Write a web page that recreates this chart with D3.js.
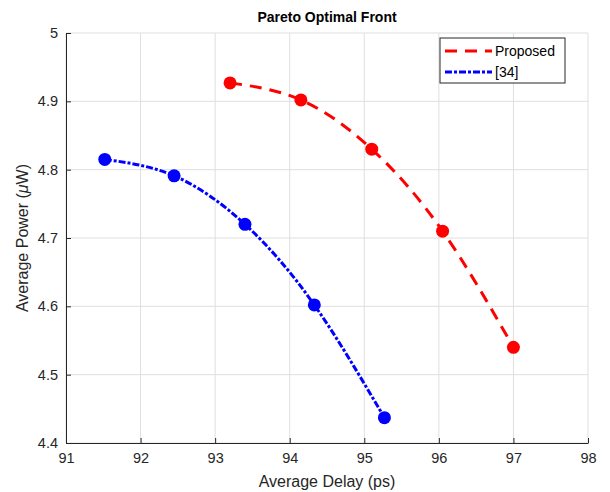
<!DOCTYPE html>
<html>
<head>
<meta charset="utf-8">
<script src="https://d3js.org/d3.v7.min.js"></script>
<style>
  body { margin: 0; background: #fff; }
  text { font-family: "Liberation Sans", Arial, sans-serif; }
</style>
</head>
<body>
<div id="chart"></div>
<script>
// data
var propDelay = [93.2, 94.15, 95.1, 96.05, 97.0];
var propPower = [4.927, 4.902, 4.830, 4.710, 4.540];
var refDelay = [91.52, 92.45, 93.4, 94.33, 95.27];
var refPower = [4.815, 4.791, 4.720, 4.602, 4.437];
var xTicks = [91, 92, 93, 94, 95, 96, 97, 98];
var yTicks = [4.4, 4.5, 4.6, 4.7, 4.8, 4.9, 5];
var seriesNames = ["Proposed", "[34]"];

var svgWidth = 610;
var svgHeight = 492;
var margin = {top: 33, right: 22, bottom: 49, left: 66};
var chartWidth = svgWidth - margin.left - margin.right;
var chartHeight = svgHeight - margin.top - margin.bottom;

var svg = d3.select("#chart").append("svg")
  .attr("width", svgWidth)
  .attr("height", svgHeight);

var chartGroup = svg.append("g")
  .attr("transform", `translate(${margin.left},${margin.top})`);

var x = d3.scaleLinear().domain([91, 98]).range([0, chartWidth]);
var y = d3.scaleLinear().domain([4.4, 5]).range([chartHeight, 0]);

// grid
chartGroup.append("g").selectAll("line.vg")
  .data(xTicks).enter().append("line")
  .attr("x1", d => x(d)).attr("x2", d => x(d))
  .attr("y1", 0).attr("y2", chartHeight)
  .attr("stroke", "#dfdfdf").attr("stroke-width", 1);
chartGroup.append("g").selectAll("line.hg")
  .data(yTicks).enter().append("line")
  .attr("y1", d => y(d)).attr("y2", d => y(d))
  .attr("x1", 0).attr("x2", chartWidth)
  .attr("stroke", "#dfdfdf").attr("stroke-width", 1);

// axes
var xAxis = chartGroup.append("g")
  .attr("transform", `translate(0,${chartHeight})`)
  .call(d3.axisBottom(x).tickValues(xTicks).tickFormat(d3.format("d")).tickSizeInner(-5).tickSizeOuter(0).tickPadding(10));
var yAxis = chartGroup.append("g")
  .call(d3.axisLeft(y).tickValues(yTicks).tickFormat(d => d === 5 ? "5" : d3.format(".1f")(d)).tickSizeInner(-5).tickSizeOuter(0).tickPadding(8));
[xAxis, yAxis].forEach(function(a) {
  a.select(".domain").attr("stroke", "#262626");
  a.selectAll(".tick line").attr("stroke", "#262626");
  a.selectAll(".tick text").attr("fill", "#262626").style("font-size", "14.5px");
});

var line = d3.line()
  .x(d => x(d[0]))
  .y(d => y(d[1]))
  .curve(d3.curveNatural);

var propData = propDelay.map((d, i) => [d, propPower[i]]);
var refData = refDelay.map((d, i) => [d, refPower[i]]);

chartGroup.append("path")
  .datum(propData)
  .attr("d", line)
  .attr("fill", "none")
  .attr("stroke", "#ff0000")
  .attr("stroke-width", 3)
  .attr("stroke-dasharray", "12,8");

chartGroup.append("path")
  .datum(refData)
  .attr("d", line)
  .attr("fill", "none")
  .attr("stroke", "#0000ff")
  .attr("stroke-width", 3)
  .attr("stroke-dasharray", "7,2,3,2");

chartGroup.selectAll("circle.prop")
  .data(propData).enter().append("circle")
  .attr("cx", d => x(d[0])).attr("cy", d => y(d[1]))
  .attr("r", 6.5).attr("fill", "#ff0000");

chartGroup.selectAll("circle.ref")
  .data(refData).enter().append("circle")
  .attr("cx", d => x(d[0])).attr("cy", d => y(d[1]))
  .attr("r", 6.5).attr("fill", "#0000ff");

// title and labels
svg.append("text")
  .attr("x", margin.left + chartWidth / 2).attr("y", 22)
  .attr("text-anchor", "middle")
  .style("font-size", "14px").style("font-weight", "bold")
  .attr("fill", "#000")
  .text("Pareto Optimal Front");

svg.append("text")
  .attr("x", margin.left + chartWidth / 2).attr("y", 487)
  .attr("text-anchor", "middle")
  .style("font-size", "16px")
  .attr("fill", "#262626")
  .text("Average Delay (ps)");

var yLabel = svg.append("text")
  .attr("transform", "rotate(-90)")
  .attr("x", -(margin.top + chartHeight / 2)).attr("y", 28)
  .attr("text-anchor", "middle")
  .style("font-size", "16px")
  .attr("fill", "#262626");
yLabel.append("tspan").text("Average Power (");
yLabel.append("tspan").style("font-style", "italic").text("\u03BC");
yLabel.append("tspan").text("W)");

// legend
var legend = svg.append("g").attr("transform", "translate(440,38)");
legend.append("rect")
  .attr("width", 125).attr("height", 45)
  .attr("fill", "#fff").attr("stroke", "#262626").attr("stroke-width", 1);
var legendStyles = [
  {color: "#ff0000", dash: "12,8"},
  {color: "#0000ff", dash: "7,2,3,2"}
];
seriesNames.forEach(function(name, i) {
  var g = legend.append("g").attr("transform", `translate(0,${13 + i * 21})`);
  g.append("line")
    .attr("x1", 5).attr("x2", 52)
    .attr("stroke", legendStyles[i].color)
    .attr("stroke-width", 3)
    .attr("stroke-dasharray", legendStyles[i].dash);
  g.append("text")
    .attr("x", 55).attr("y", 5)
    .style("font-size", "14px")
    .attr("fill", "#000")
    .text(name);
});
</script>
</body>
</html>
